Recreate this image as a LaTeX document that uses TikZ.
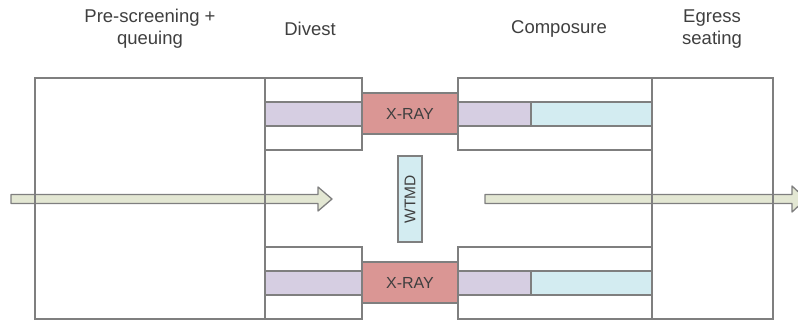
\documentclass[tikz,border=0pt]{standalone}
\usepackage{fontspec}
\setmainfont{Liberation Sans}
\definecolor{edge}{HTML}{7F7F7F}
\definecolor{lane}{HTML}{D6CEE2}
\definecolor{xray}{HTML}{DA9694}
\definecolor{wtmd}{HTML}{D3ECF1}
\definecolor{flow}{HTML}{E3E7D3}
\definecolor{ink}{HTML}{3F3F3F}

\begin{document}
\begin{tikzpicture}[x=1pt,y=-1pt,
  zone/.style={draw=edge,line width=1.3pt,rectangle,inner sep=0pt,outer sep=0pt,anchor=north west},
  band/.style={zone,fill=lane},
  scanner/.style={zone,fill=xray,text=ink,font=\fontsize{16}{19}\selectfont},
  detector/.style={zone,fill=wtmd,text=ink,font=\fontsize{15.5}{18}\selectfont},
  heading/.style={text=ink,align=center,inner sep=0pt,font=\fontsize{18.5}{22}\selectfont},
  flowarrow/.style={draw=edge,fill=flow,line width=1.3pt,line join=round}]

\useasboundingbox (0,0) rectangle (798,322);

% passenger flow arrows (drawn first, box edges show through)
\draw[flowarrow] (11,194.5) -- (318,194.5) -- (318,187) -- (332,199) -- (318,211)
  -- (318,203.5) -- (11,203.5) -- cycle;
\draw[flowarrow] (485,194.5) -- (792,194.5) -- (792,186) -- (806,199) -- (792,212)
  -- (792,203.5) -- (485,203.5) -- cycle;

% area headings
\node[heading] (hPre) at (150,29) {Pre-screening +\\queuing};
\node[heading] (hDiv) at (310,29) {Divest};
\node[heading] (hCom) at (559,29) {Composure};
\node[heading] (hEgr) at (712,29) {Egress\\seating};

% pre-screening hall
\node[zone,minimum width=230pt,minimum height=241pt] (pre) at (35,78) {};

% divest tables, upper and lower lane
\node[zone,minimum width=97pt,minimum height=72pt] (divA) at (265,78) {};
\node[band,minimum width=97pt,minimum height=24pt] (divAband) at (265,102) {};
\node[zone,minimum width=97pt,minimum height=72pt] (divB) at (265,247) {};
\node[band,minimum width=97pt,minimum height=24pt] (divBband) at (265,271) {};

% x-ray machines
\node[scanner,minimum width=96pt,minimum height=41pt] (xrayA) at (362,93) {};
\node[text=ink,font=\fontsize{16}{19}\selectfont] (xrayAlbl) at (xrayA.center) {X-RAY};
\node[scanner,minimum width=96pt,minimum height=41pt] (xrayB) at (362,262) {};
\node[text=ink,font=\fontsize{16}{19}\selectfont] (xrayBlbl) at (xrayB.center) {X-RAY};

% walk-through metal detector
\node[detector,minimum width=24pt,minimum height=86pt] (wtmd) at (398,156) {};
\node[text=ink,font=\fontsize{15.5}{18}\selectfont,rotate=90] (wtmdlbl) at (wtmd.center) {WTMD};

% composure tables, upper and lower lane
\node[zone,minimum width=194pt,minimum height=72pt] (comA) at (458,78) {};
\node[band,minimum width=73pt,minimum height=24pt] (comAin) at (458,102) {};
\node[zone,fill=wtmd,minimum width=121pt,minimum height=24pt] (comAout) at (531,102) {};
\node[zone,minimum width=194pt,minimum height=72pt] (comB) at (458,247) {};
\node[band,minimum width=73pt,minimum height=24pt] (comBin) at (458,271) {};
\node[zone,fill=wtmd,minimum width=121pt,minimum height=24pt] (comBout) at (531,271) {};

% egress seating area
\node[zone,minimum width=121pt,minimum height=241pt] (egr) at (652,78) {};

\end{tikzpicture}
\end{document}
